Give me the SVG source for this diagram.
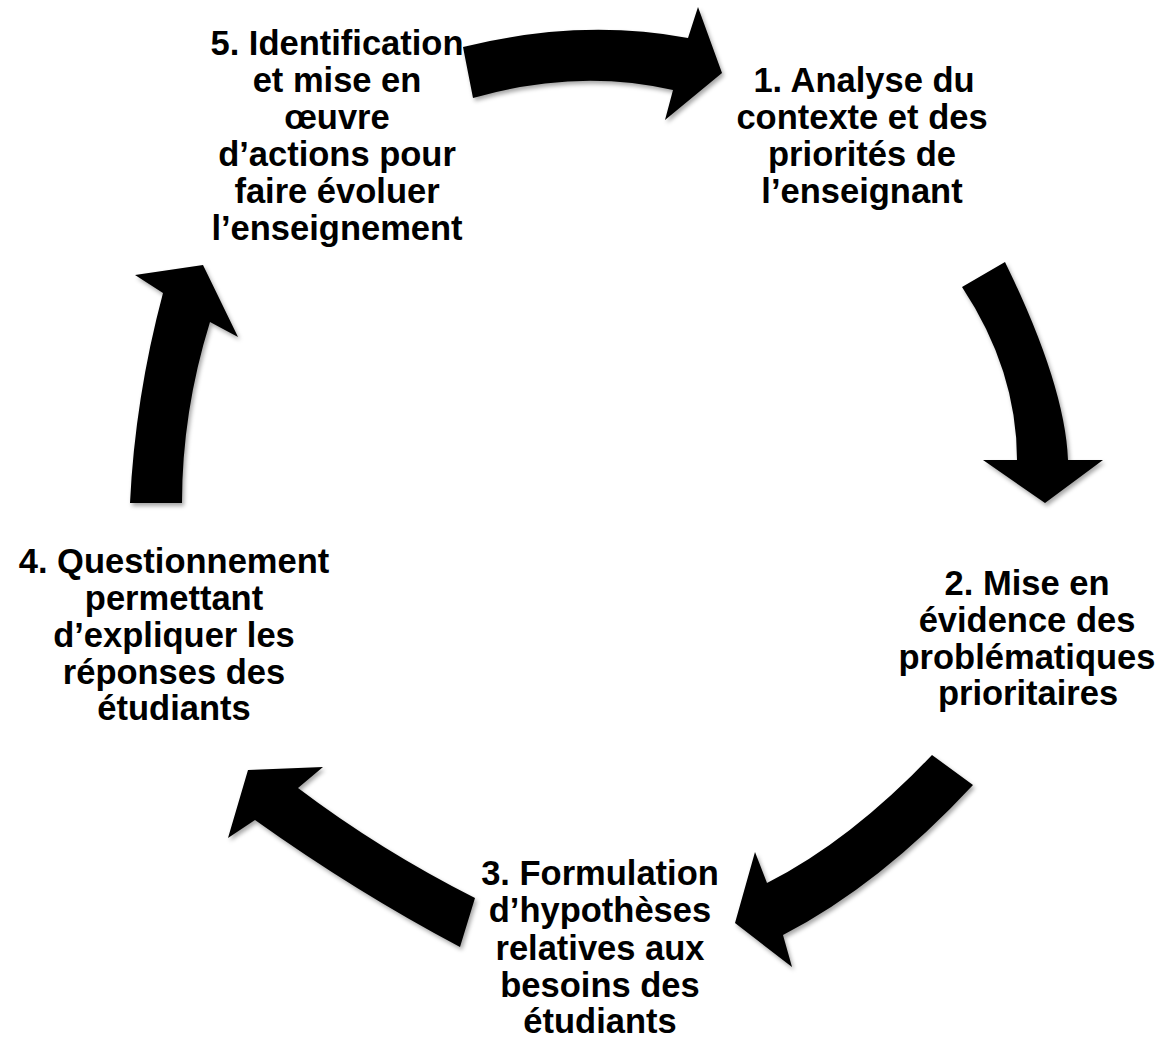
<svg xmlns="http://www.w3.org/2000/svg" width="1159" height="1038" viewBox="0 0 1159 1038">
  <style>
    .lbl { font-family: "Liberation Sans", Arial, sans-serif; font-weight: bold; font-size: 34.5px; fill: #000; text-anchor: middle; }
    .arrow { fill: #000; stroke: none; filter: url(#shadow); }
  </style>
  <defs>
    <filter id="shadow" x="-20%" y="-20%" width="140%" height="140%">
      <feDropShadow dx="2" dy="3" stdDeviation="2" flood-color="#000" flood-opacity="0.35"/>
    </filter>
  </defs>
  <rect width="1159" height="1038" fill="#fff"/>

  <g id="connectors">
    <path id="arrow-5-1" class="arrow" d="M463,47 Q580,18 688,38 L698,7 L722,73 L665,120 L673,90 Q577,68 473,98 Z"/>
    <path id="arrow-1-2" class="arrow" d="M962,287 L1005,262 Q1065,385 1068,460 L1103,460 L1045,503 L983,460 L1017,460 Q1017,370 962,287 Z"/>
    <path id="arrow-2-3" class="arrow" d="M932,755 L973,785 Q880,885 783,935 L792,967 L735,923 L755,852 L767,883 Q850,841 932,755 Z"/>
    <path id="arrow-3-4" class="arrow" d="M475,898 L460,947 Q356,892 255,820 L228,838 L248,770 L323,767 L298,788 Q380,850 475,898 Z"/>
    <path id="arrow-4-5" class="arrow" d="M130,503 Q135,398 163,293 L135,275 L203,265 L238,337 L210,322 Q182,412 182,503 Z"/>
  </g>

  <g id="node-1">
    <text class="lbl" x="864" y="92">1. Analyse du</text>
    <text class="lbl" x="862" y="129">contexte et des</text>
    <text class="lbl" x="862" y="166">priorités de</text>
    <text class="lbl" x="862" y="203">l’enseignant</text>
  </g>

  <g id="node-2">
    <text class="lbl" x="1027" y="595">2. Mise en</text>
    <text class="lbl" x="1027" y="632">évidence des</text>
    <text class="lbl" x="1027" y="669">problématiques</text>
    <text class="lbl" x="1028" y="705">prioritaires</text>
  </g>

  <g id="node-3">
    <text class="lbl" x="600" y="885">3. Formulation</text>
    <text class="lbl" x="600" y="922">d’hypothèses</text>
    <text class="lbl" x="600" y="960">relatives aux</text>
    <text class="lbl" x="600" y="997">besoins des</text>
    <text class="lbl" x="600" y="1033">étudiants</text>
  </g>

  <g id="node-4">
    <text class="lbl" x="174" y="573">4. Questionnement</text>
    <text class="lbl" x="174" y="610">permettant</text>
    <text class="lbl" x="174" y="647">d’expliquer les</text>
    <text class="lbl" x="174" y="684">réponses des</text>
    <text class="lbl" x="174" y="720">étudiants</text>
  </g>

  <g id="node-5">
    <text class="lbl" x="337" y="55">5. Identification</text>
    <text class="lbl" x="337" y="92">et mise en</text>
    <text class="lbl" x="337" y="129">œuvre</text>
    <text class="lbl" x="337" y="166">d’actions pour</text>
    <text class="lbl" x="337" y="203">faire évoluer</text>
    <text class="lbl" x="337" y="240">l’enseignement</text>
  </g>
</svg>
